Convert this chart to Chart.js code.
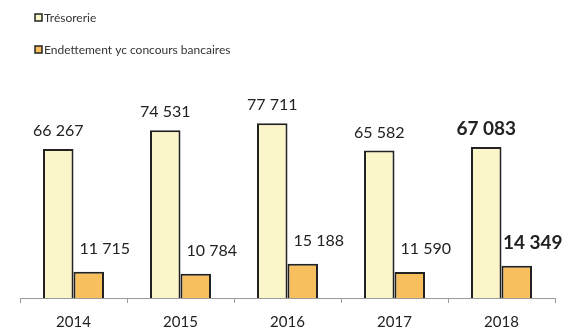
<!DOCTYPE html>
<html>
<head>
<meta charset="utf-8">
<script src="https://cdn.jsdelivr.net/npm/chart.js@4"></script>
<style>
  html, body { margin: 0; padding: 0; background: #fff; }
  #wrap { width: 570px; height: 327px; position: relative; }
</style>
</head>
<body>
<div id="wrap"><canvas id="c"></canvas></div>
<script>
const years = ['2014', '2015', '2016', '2017', '2018'];
const tresorerie = [66267, 74531, 77711, 65582, 67083];
const endettement = [11715, 10784, 15188, 11590, 14349];
const highlighted = [false, false, false, false, true];
const seriesNames = ['Trésorerie', 'Endettement yc concours bancaires'];

const FONT = 'Lato, "Open Sans", sans-serif';

function fmt(n) {
  return String(n).replace(/\B(?=(\d{3})+(?!\d))/g, ' ');
}

// Stacked legend at top-left, one row per series
const stackedLegend = {
  id: 'stackedLegend',
  afterDraw(chart) {
    const ctx = chart.ctx;
    const rows = [17.5, 49.5];
    ctx.save();
    chart.data.datasets.forEach((ds, i) => {
      const y = rows[i];
      ctx.fillStyle = ds.backgroundColor;
      ctx.fillRect(35, y - 3.5, 7, 7);
      ctx.lineWidth = 1.5;
      ctx.strokeStyle = '#222';
      ctx.strokeRect(35, y - 3.5, 7, 7);
      ctx.fillStyle = '#333';
      ctx.font = '12px ' + FONT;
      ctx.textAlign = 'left';
      ctx.textBaseline = 'middle';
      ctx.fillText(ds.label, 44, y + 0.5);
    });
    ctx.restore();
  }
};

// Value labels above each bar
const valueLabels = {
  id: 'valueLabels',
  afterDatasetsDraw(chart) {
    const ctx = chart.ctx;
    const offsets = [{ dx: 0, dy: -18 }, { dx: 16, dy: -23 }];
    ctx.save();
    ctx.textAlign = 'center';
    ctx.textBaseline = 'middle';
    ctx.fillStyle = '#222';
    chart.data.datasets.forEach((ds, di) => {
      const meta = chart.getDatasetMeta(di);
      meta.data.forEach((bar, i) => {
        const bold = highlighted[i];
        ctx.font = (bold ? 'bold 19px ' : '16px ') + FONT;
        const o = offsets[di];
        ctx.fillText(fmt(ds.data[i]), bar.x + o.dx, bar.y + o.dy);
      });
    });
    ctx.restore();
  }
};

new Chart(document.getElementById('c'), {
  type: 'bar',
  data: {
    labels: years,
    datasets: [
      {
        label: seriesNames[0],
        data: tresorerie,
        backgroundColor: '#FBF6C9',
        borderColor: '#222',
        borderWidth: 2
      },
      {
        label: seriesNames[1],
        data: endettement,
        backgroundColor: '#F8BF5E',
        borderColor: '#222',
        borderWidth: 2
      }
    ]
  },
  options: {
    responsive: true,
    maintainAspectRatio: false,
    animation: false,
    layout: { padding: { left: 20, right: 15, top: 73, bottom: -15 } },
    datasets: { bar: { categoryPercentage: 0.57, barPercentage: 1 } },
    plugins: {
      legend: { display: false },
      tooltip: { enabled: false }
    },
    scales: {
      x: {
        grid: {
          display: true,
          drawOnChartArea: false,
          drawTicks: true,
          tickLength: 5,
          color: '#9a9a9a'
        },
        border: { display: true, color: '#9a9a9a', width: 1 },
        ticks: {
          color: '#222',
          padding: 12,
          font: { family: FONT, size: 15, lineHeight: 1 }
        }
      },
      y: {
        display: false,
        min: 0,
        max: 100000
      }
    }
  },
  plugins: [stackedLegend, valueLabels]
});
</script>
</body>
</html>
